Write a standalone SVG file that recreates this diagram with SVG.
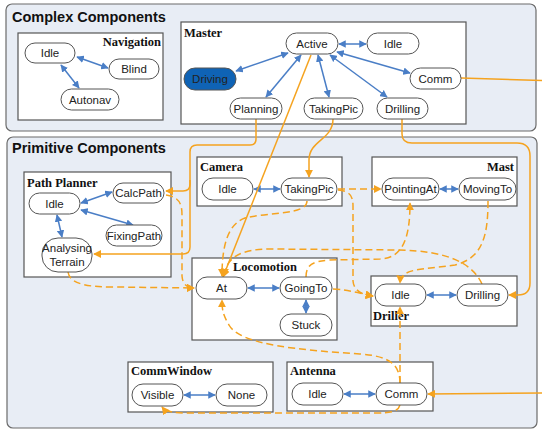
<svg xmlns="http://www.w3.org/2000/svg" width="542" height="431" viewBox="0 0 542 431">
  <style>
    .panel { fill: #E8EDF5; stroke: #6b6b6b; stroke-width: 1.2; }
    .box { fill: #ffffff; stroke: #555555; stroke-width: 1.2; }
    .node { fill: #ffffff; stroke: #555555; stroke-width: 1; }
    .active { fill: #0F63B5; stroke: #555555; stroke-width: 1; }
    .ptitle { font-family: "Liberation Sans", Arial, sans-serif; font-weight: bold; font-size: 14.5px; fill: #111; }
    .btitle { font-family: "Liberation Serif", "Times New Roman", serif; font-weight: bold; font-size: 12.5px; fill: #111; }
    .lbl { font-family: "Liberation Sans", Arial, sans-serif; font-size: 11.5px; fill: #222; text-anchor: middle; }
    .blue { fill: none; stroke: #4A7EC6; stroke-width: 1.5; marker-start: url(#bh); marker-end: url(#bh); }
    .or { fill: none; stroke: #F5A31F; stroke-width: 1.5; }
    .dash { stroke-dasharray: 7 4; }
    .arr { marker-end: url(#oh); }
  </style>
  <defs>
    <marker id="bh" viewBox="0 0 10 10" refX="9" refY="5" markerWidth="5" markerHeight="5" orient="auto-start-reverse" markerUnits="strokeWidth">
      <path d="M0,0 L10,5 L0,10 z" fill="#4A7EC6"/>
    </marker>
    <marker id="oh" viewBox="0 0 10 10" refX="9" refY="5" markerWidth="5.5" markerHeight="5.5" orient="auto" markerUnits="strokeWidth">
      <path d="M0,0 L10,5 L0,10 z" fill="#F5A31F"/>
    </marker>
  </defs>

  <rect width="542" height="431" fill="#ffffff"/>

  <!-- panels -->
  <rect class="panel" x="6" y="4" width="530" height="127" rx="6"/>
  <text class="ptitle" x="12" y="22">Complex Components</text>
  <rect class="panel" x="7" y="137" width="530" height="291" rx="6"/>
  <text class="ptitle" x="12" y="153">Primitive Components</text>

  <!-- component boxes -->
  <g id="navigation">
    <rect class="box" x="18" y="33" width="145" height="87"/>
    <text class="btitle" x="161" y="46" text-anchor="end">Navigation</text>
  </g>
  <g id="master">
    <rect class="box" x="181" y="22" width="285" height="102"/>
    <text class="btitle" x="184" y="37">Master</text>
  </g>
  <g id="path-planner">
    <rect class="box" x="24" y="172" width="147" height="105"/>
    <text class="btitle" x="27" y="187">Path Planner</text>
  </g>
  <g id="camera">
    <rect class="box" x="197" y="157" width="145" height="49"/>
    <text class="btitle" x="200" y="171">Camera</text>
  </g>
  <g id="mast">
    <rect class="box" x="372" y="157" width="145" height="49"/>
    <text class="btitle" x="514" y="171" text-anchor="end">Mast</text>
  </g>
  <g id="locomotion">
    <rect class="box" x="192" y="258" width="145" height="82"/>
    <text class="btitle" x="233" y="271">Locomotion</text>
  </g>
  <g id="driller">
    <rect class="box" x="371" y="276" width="146" height="50"/>
    <text class="btitle" x="373" y="320">Driller</text>
  </g>
  <g id="commwindow">
    <rect class="box" x="128" y="362" width="145" height="50"/>
    <text class="btitle" x="131" y="375">CommWindow</text>
  </g>
  <g id="antenna">
    <rect class="box" x="287" y="362" width="146" height="49"/>
    <text class="btitle" x="290" y="375">Antenna</text>
  </g>

  <!-- connectors -->
  <g id="connectors">
    <!-- internal transitions -->
    <path class="blue" d="M77,57 L108,68"/>
    <path class="blue" d="M61,65 L79,88"/>
    <path class="blue" d="M339,44 L366,44"/>
    <path class="blue" d="M288,53 L236,71"/>
    <path class="blue" d="M301,55 L266,97"/>
    <path class="blue" d="M318,55 L329,97"/>
    <path class="blue" d="M337,52 L410,73"/>
    <path class="blue" d="M330,55 L387,97"/>
    <path class="blue" d="M81,203 L112,192"/>
    <path class="blue" d="M81,210 L133,225"/>
    <path class="blue" d="M57,215 L62,237"/>
    <path class="blue" d="M254,189 L280,189"/>
    <path class="blue" d="M440,189 L458,189"/>
    <path class="blue" d="M248,288 L279,288"/>
    <path class="blue" d="M306,300 L306,313"/>
    <path class="blue" d="M427,295 L456,295"/>
    <path class="blue" d="M184,395 L215,395"/>
    <path class="blue" d="M344,394 L375,394"/>

    <!-- solid links between components -->
    <path class="or" d="M461,78 L542,80.5"/>
    <path class="or arr" d="M542,393 L428,394"/>
    <path class="or arr" d="M402,119 V134 Q402,143 412,143 H517 Q530,143 530,156 V283 Q530,295 518,295 H509"/>
    <path class="or arr" d="M256,119 V139 Q256,145 250,145 H197 Q190,145 190,152 V184 Q190,191 183,191 H166"/>
    <path class="or arr" d="M190,180 V247 Q190,254 183,254 H94"/>
    <path class="or arr" d="M311,55 L223,277"/>
    <path class="or arr" d="M333,119 C333,140 309,140 309,160 V177"/>

    <!-- dashed links -->
    <path class="or dash arr" d="M338,189 L381,189"/>
    <path class="or dash arr" d="M307,201 C307,215 270,212 245,218 C228,224 222,245 222,276"/>
    <path class="or dash arr" d="M338,190 C350,191 353,196 353,206 V281 Q354,294 373,296"/>
    <path class="or dash arr" d="M333,289 C350,290 358,293 373,296"/>
    <path class="or dash arr" d="M166,195 C180,197 182,205 182,215 V276 Q183,288 194,288"/>
    <path class="or dash arr" d="M68,272 C70,285 90,287 115,287 L194,288"/>
    <path class="or dash arr" d="M482,284 C472,262 445,251 400,250 L270,249 C240,249 226,258 224,276"/>
    <path class="or dash arr" d="M306,277 C306,264 314,261 330,260 L380,259 C402,258 410,240 410,203"/>
    <path class="or dash arr" d="M488,201 C488,235 483,258 455,265 C420,270 401,268 400,283"/>
    <path class="or dash arr" d="M400,383 V307"/>
    <path class="or dash arr" d="M400,383 C400,365 390,356 360,354 C300,350 240,345 229,325 C223,315 222,310 222,300"/>
    <path class="or dash arr" d="M400,405 C398,412 390,413 375,413 H190 C175,413 166,412 162,407"/>
  </g>

  <!-- states -->
  <g id="nav-idle"><rect class="node" x="25" y="43" width="50" height="20" rx="10"/><text class="lbl" x="50" y="57">Idle</text></g>
  <g id="nav-blind"><rect class="node" x="109" y="59" width="50" height="20" rx="10"/><text class="lbl" x="134" y="73">Blind</text></g>
  <g id="nav-autonav"><rect class="node" x="61" y="89" width="58" height="21" rx="10.5"/><text class="lbl" x="90" y="104">Autonav</text></g>

  <g id="master-active"><rect class="node" x="286" y="33" width="52" height="21" rx="10.5"/><text class="lbl" x="312" y="48">Active</text></g>
  <g id="master-idle"><rect class="node" x="367" y="33" width="52" height="21" rx="10.5"/><text class="lbl" x="393" y="48">Idle</text></g>
  <g id="master-driving"><rect class="active" x="184" y="68" width="52" height="22" rx="11"/><text class="lbl" x="210" y="83">Driving</text></g>
  <g id="master-planning"><rect class="node" x="230" y="98" width="52" height="21" rx="10.5"/><text class="lbl" x="256" y="113">Planning</text></g>
  <g id="master-takingpic"><rect class="node" x="304" y="98" width="59" height="21" rx="10.5"/><text class="lbl" x="333.5" y="113">TakingPic</text></g>
  <g id="master-comm"><rect class="node" x="410" y="68" width="51" height="21" rx="10.5"/><text class="lbl" x="435.5" y="83">Comm</text></g>
  <g id="master-drilling"><rect class="node" x="377" y="98" width="51" height="21" rx="10.5"/><text class="lbl" x="402.5" y="113">Drilling</text></g>

  <g id="pp-calcpath"><rect class="node" x="113" y="183" width="51" height="20" rx="10"/><text class="lbl" x="138.5" y="197">CalcPath</text></g>
  <g id="pp-idle"><rect class="node" x="29" y="193" width="51" height="21" rx="10.5"/><text class="lbl" x="54.5" y="208">Idle</text></g>
  <g id="pp-fixingpath"><rect class="node" x="106" y="225" width="56" height="21" rx="10.5"/><text class="lbl" x="134" y="240">FixingPath</text></g>
  <g id="pp-analysing"><rect class="node" x="42" y="238" width="50" height="34" rx="16"/><text class="lbl" x="67" y="252">Analysing</text><text class="lbl" x="67" y="266">Terrain</text></g>

  <g id="camera-idle"><rect class="node" x="202" y="178" width="51" height="22" rx="11"/><text class="lbl" x="227.5" y="193">Idle</text></g>
  <g id="camera-takingpic"><rect class="node" x="281" y="178" width="56" height="22" rx="11"/><text class="lbl" x="309" y="193">TakingPic</text></g>

  <g id="mast-pointingat"><rect class="node" x="382" y="178" width="57" height="22" rx="11"/><text class="lbl" x="410.5" y="193">PointingAt</text></g>
  <g id="mast-movingto"><rect class="node" x="459" y="178" width="57" height="22" rx="11"/><text class="lbl" x="487.5" y="193">MovingTo</text></g>

  <g id="loco-at"><rect class="node" x="196" y="277" width="51" height="22" rx="11"/><text class="lbl" x="221.5" y="292">At</text></g>
  <g id="loco-goingto"><rect class="node" x="280" y="277" width="52" height="22" rx="11"/><text class="lbl" x="306" y="292">GoingTo</text></g>
  <g id="loco-stuck"><rect class="node" x="280" y="314" width="52" height="22" rx="11"/><text class="lbl" x="306" y="329">Stuck</text></g>

  <g id="driller-idle"><rect class="node" x="375" y="284" width="51" height="22" rx="11"/><text class="lbl" x="400.5" y="299">Idle</text></g>
  <g id="driller-drilling"><rect class="node" x="457" y="284" width="51" height="22" rx="11"/><text class="lbl" x="482.5" y="299">Drilling</text></g>

  <g id="cw-visible"><rect class="node" x="132" y="384" width="51" height="22" rx="11"/><text class="lbl" x="157.5" y="399">Visible</text></g>
  <g id="cw-none"><rect class="node" x="216" y="384" width="51" height="22" rx="11"/><text class="lbl" x="241.5" y="399">None</text></g>

  <g id="antenna-idle"><rect class="node" x="292" y="383" width="51" height="22" rx="11"/><text class="lbl" x="317.5" y="398">Idle</text></g>
  <g id="antenna-comm"><rect class="node" x="376" y="383" width="51" height="22" rx="11"/><text class="lbl" x="401.5" y="398">Comm</text></g>
</svg>
